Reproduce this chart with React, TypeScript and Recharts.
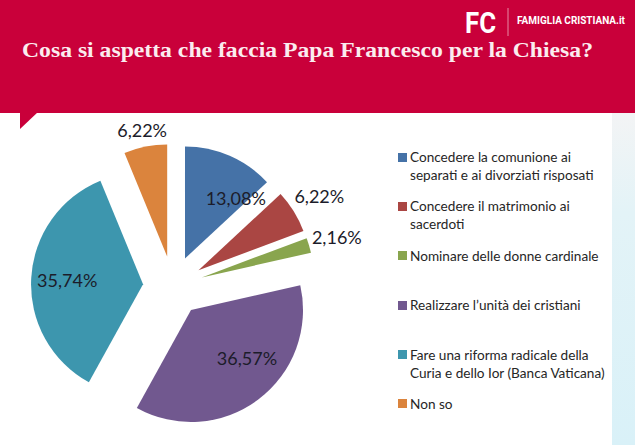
import React from 'react';
import { PieChart, Pie, Legend, Sector } from 'recharts';

const categories = [
  'Concedere la comunione ai separati e ai divorziati risposati',
  'Concedere il matrimonio ai sacerdoti',
  'Nominare delle donne cardinale',
  'Realizzare l\u2019unità dei cristiani',
  'Fare una riforma radicale della Curia e dello Ior (Banca Vaticana)',
  'Non so',
];
const percentages = [13.08, 6.22, 2.16, 36.57, 35.74, 6.22];

const COLORS = ['#4572a7', '#aa4643', '#89a54e', '#71588f', '#3d96ae', '#db843d'];
const RED = '#c9003a';

// slice offset from the centre (Excel "explode") and label placement per slice
const EXPLODE = 30;
const LABEL_DIST = [108, 172, 171, 103, 106, 159];
const LABEL_TURN = [-12, 0, 0, 9, 0, 0];
const RAD = Math.PI / 180;

const data = categories.map((name, i) => ({ name, value: percentages[i] }));
const fmt = (v: number) => `${v.toFixed(2).replace('.', ',')}%`;

const renderSlice = (props: any) => {
  const { cx, cy, midAngle, innerRadius, outerRadius, startAngle, endAngle, index, value } = props;
  const ox = cx + EXPLODE * Math.cos(midAngle * RAD);
  const oy = cy - EXPLODE * Math.sin(midAngle * RAD);
  const a = (midAngle + LABEL_TURN[index]) * RAD;
  const lx = cx + LABEL_DIST[index] * Math.cos(a);
  const ly = cy - LABEL_DIST[index] * Math.sin(a);
  return (
    <g>
      <Sector
        cx={ox}
        cy={oy}
        innerRadius={innerRadius}
        outerRadius={outerRadius}
        startAngle={startAngle}
        endAngle={endAngle}
        fill={COLORS[index]}
        stroke="none"
      />
      <text
        x={lx}
        y={ly}
        textAnchor="middle"
        dominantBaseline="central"
        fontFamily="Lato"
        fontSize={18}
        fill="#1c1c2a"
      >
        {fmt(value)}
      </text>
    </g>
  );
};

// legend keeps the data order (Recharts would sort it by name)
const renderLegend = () => (
  <div style={{ fontFamily: 'Lato', fontSize: 13.6, color: '#262626' }}>
    {data.map((entry, i) => (
      <div key={entry.name} style={{ height: 49.4, display: 'flex', alignItems: 'flex-start' }}>
        <span
          style={{
            width: 9,
            height: 9,
            background: COLORS[i],
            marginTop: 4.5,
            marginRight: 3,
            flex: 'none',
          }}
        />
        <span style={{ lineHeight: '18px', width: 202 }}>{entry.name}</span>
      </div>
    ))}
  </div>
);

export default function App() {
  return (
    <div
      style={{
        position: 'fixed',
        left: 0,
        top: 0,
        width: 635,
        height: 445,
        overflow: 'hidden',
        background: '#ffffff',
      }}
    >
      <svg width={635} height={445} style={{ position: 'absolute', left: 0, top: 0 }}>
        <defs>
          <linearGradient id="strip" x1="0" y1="0" x2="0" y2="1">
            <stop offset="0%" stopColor="#f3f4f5" />
            <stop offset="30%" stopColor="#e3f3f7" />
            <stop offset="100%" stopColor="#d9f1f8" />
          </linearGradient>
        </defs>
        <rect x={612} y={113} width={23} height={332} fill="url(#strip)" />
        <rect x={0} y={0} width={635} height={113} fill={RED} />
        <polygon points="20,112 38,112 20,129" fill={RED} />
        <text
          x={22}
          y={57}
          fontFamily="Liberation Serif"
          fontWeight="bold"
          fontSize={21}
          fill="#fbecef"
          textLength={571}
          lengthAdjust="spacingAndGlyphs"
        >
          Cosa si aspetta che faccia Papa Francesco per la Chiesa?
        </text>
        <text
          x={465}
          y={33}
          fontFamily="Roboto"
          fontWeight="bold"
          fontSize={29}
          fill="#ffffff"
          textLength={31}
          lengthAdjust="spacingAndGlyphs"
        >
          FC
        </text>
        <line x1={508} y1={8} x2={508} y2={36} stroke="#e68aa3" strokeWidth={1} />
        <text
          x={517}
          y={24}
          fontFamily="Roboto"
          fontWeight="bold"
          fontSize={11}
          fill="#ffffff"
          textLength={108}
          lengthAdjust="spacingAndGlyphs"
        >
          FAMIGLIA CRISTIANA.it
        </text>
      </svg>
      <div style={{ position: 'absolute', left: 0, top: 0 }}>
        <PieChart width={635} height={445} margin={{ top: 0, right: 0, bottom: 0, left: 0 }}>
          <Pie
            data={data}
            dataKey="value"
            nameKey="name"
            cx={173}
            cy={286}
            outerRadius={112}
            startAngle={90}
            endAngle={-270}
            fill="none"
            stroke="none"
            legendType="square"
            label={renderSlice}
            labelLine={false}
            isAnimationActive={false}
          />
          <Legend
            layout="vertical"
            align="right"
            verticalAlign="top"
            content={renderLegend}
            wrapperStyle={{ position: 'absolute', left: 398, top: 148, width: 218 }}
          />
        </PieChart>
      </div>
    </div>
  );
}
